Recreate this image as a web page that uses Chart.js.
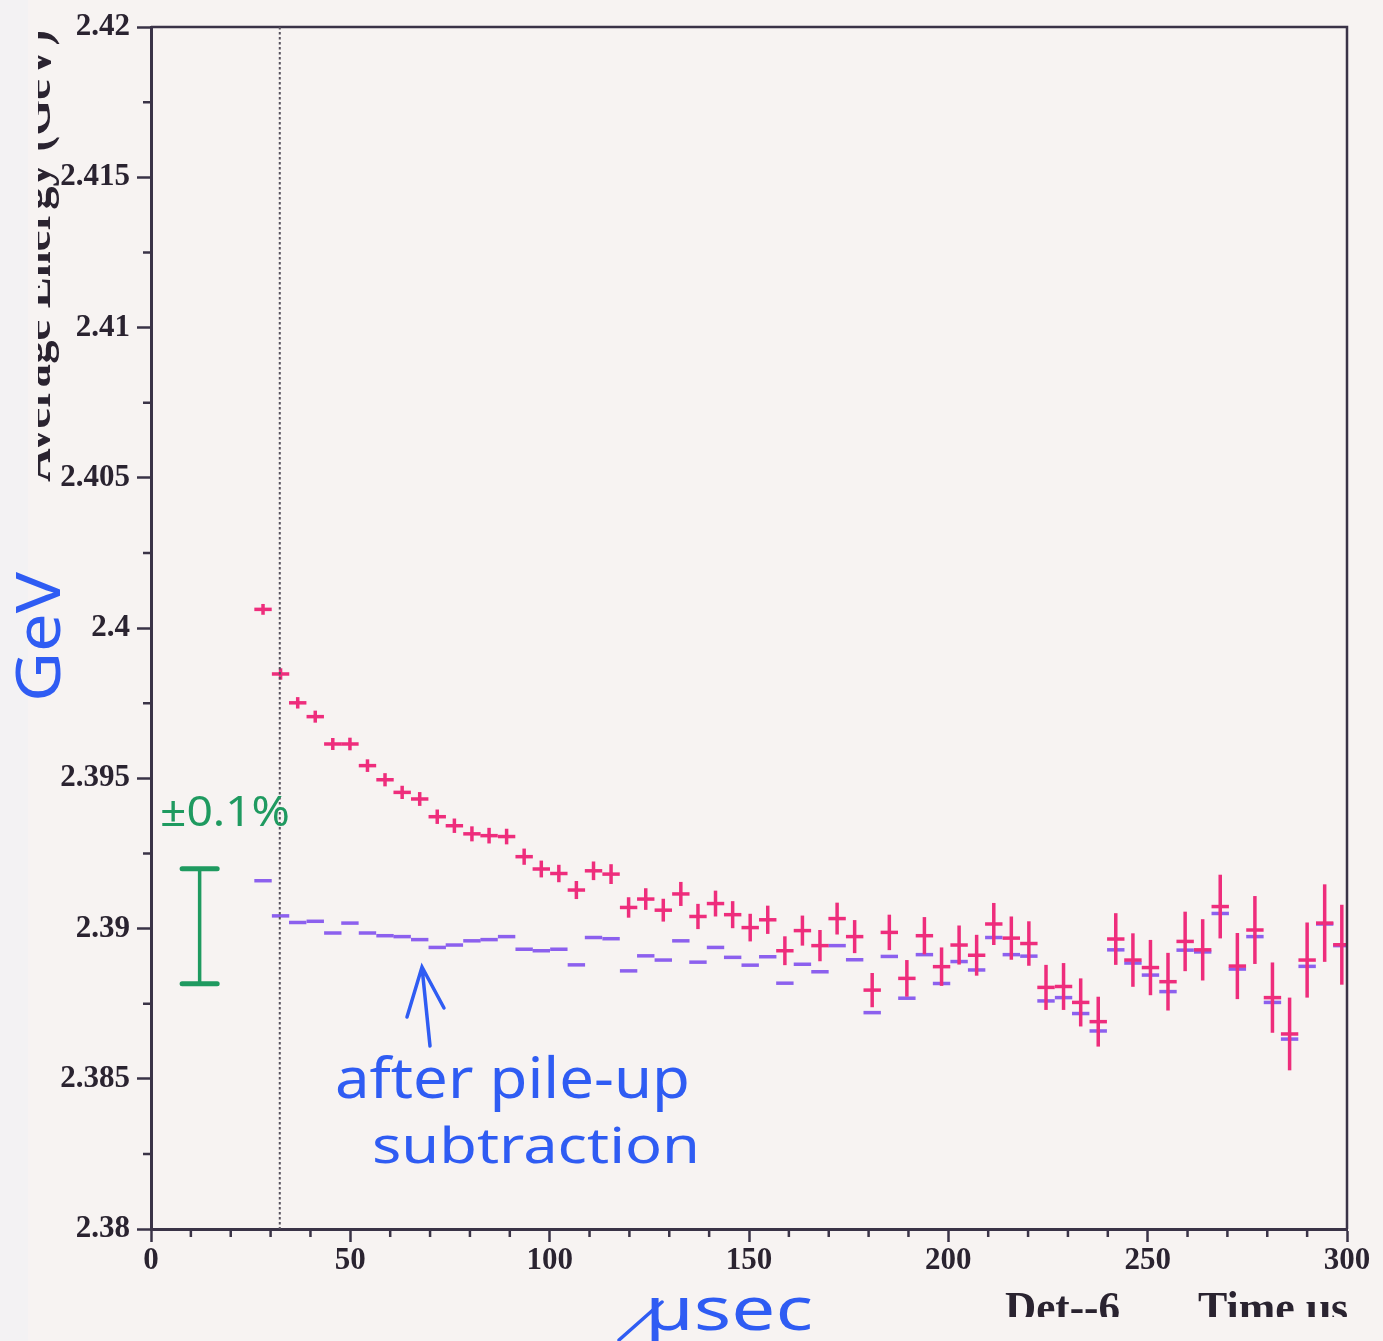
<!DOCTYPE html>
<html lang="en">
<head>
  <meta charset="UTF-8">
  <title>Average Energy vs Time - Det 6</title>
  <script src="https://cdn.jsdelivr.net/npm/chart.js"></script>
  <style>
    html, body { margin: 0; background: #f7f3f2; }
    canvas { display: block; }
  </style>
</head>
<body>
<canvas id="energyChart" width="1383" height="1341"></canvas>

<script>
  // bin centres (usec)
  const times = [
    28.1, 32.5, 36.8, 41.2, 45.6, 49.9, 54.3, 58.7, 63.0, 67.4,
    71.8, 76.1, 80.5, 84.8, 89.2, 93.6, 97.9, 102.3, 106.7, 111.0,
    115.4, 119.8, 124.1, 128.5, 132.9, 137.2, 141.6, 145.9, 150.3, 154.7,
    159.0, 163.4, 167.8, 172.1, 176.5, 180.9, 185.2, 189.6, 194.0, 198.3,
    202.7, 207.1, 211.4, 215.8, 220.2, 224.5, 228.9, 233.2, 237.6, 242.0,
    246.3, 250.7, 255.1, 259.4, 263.8, 268.2, 272.5, 276.9, 281.3, 285.6,
    290.0, 294.4, 298.7
  ];

  // average energy before pile-up subtraction (GeV)
  const rawEnergy = [
    2.40062, 2.39847, 2.39751, 2.39705, 2.39614, 2.39614, 2.39542, 2.39495, 2.39453, 2.39431,
    2.39372, 2.39342, 2.39315, 2.39309, 2.39306, 2.39239, 2.39198, 2.39183, 2.39128, 2.39192,
    2.39181, 2.39070, 2.39098, 2.39061, 2.39115, 2.39040, 2.39083, 2.39046, 2.39003, 2.39029,
    2.38926, 2.38993, 2.38943, 2.39033, 2.38973, 2.38795, 2.38987, 2.38834, 2.38976, 2.38873,
    2.38945, 2.38911, 2.39015, 2.38968, 2.38950, 2.38804, 2.38807, 2.38754, 2.38690, 2.38965,
    2.38895, 2.38870, 2.38823, 2.38957, 2.38929, 2.39073, 2.38875, 2.38995, 2.38770, 2.38649,
    2.38895, 2.39018, 2.38946
  ];

  const rawError = [
    0.00018, 0.00019, 0.00019, 0.00020, 0.00020, 0.00021, 0.00021, 0.00022, 0.00022, 0.00023,
    0.00024, 0.00024, 0.00025, 0.00026, 0.00026, 0.00027, 0.00028, 0.00029, 0.00030, 0.00031,
    0.00033, 0.00034, 0.00036, 0.00038, 0.00040, 0.00042, 0.00043, 0.00045, 0.00046, 0.00047,
    0.00048, 0.00050, 0.00052, 0.00053, 0.00055, 0.00057, 0.00059, 0.00061, 0.00062, 0.00064,
    0.00065, 0.00068, 0.00070, 0.00072, 0.00074, 0.00075, 0.00078, 0.00080, 0.00083, 0.00086,
    0.00089, 0.00092, 0.00096, 0.00099, 0.00102, 0.00106, 0.00110, 0.00113, 0.00117, 0.00121,
    0.00125, 0.00129, 0.00133
  ];

  // average energy after pile-up subtraction (GeV)
  const subtractedEnergy = [
    2.39159, 2.39042, 2.39020, 2.39024, 2.38985, 2.39018, 2.38985, 2.38976, 2.38973, 2.38963,
    2.38937, 2.38945, 2.38959, 2.38963, 2.38973, 2.38931, 2.38926, 2.38931, 2.38879, 2.38970,
    2.38966, 2.38859, 2.38909, 2.38895, 2.38959, 2.38888, 2.38937, 2.38904, 2.38878, 2.38906,
    2.38818, 2.38881, 2.38856, 2.38943, 2.38896, 2.38720, 2.38907, 2.38768, 2.38913, 2.38817,
    2.38890, 2.38862, 2.38970, 2.38913, 2.38908, 2.38759, 2.38770, 2.38717, 2.38659, 2.38929,
    2.38885, 2.38845, 2.38790, 2.38928, 2.38922, 2.39050, 2.38865, 2.38973, 2.38754, 2.38632,
    2.38874, 2.39015, 2.38943
  ];

  const xMajorTicks = [0, 50, 100, 150, 200, 250, 300];
  const xMinorTicks = [10, 20, 30, 40, 60, 70, 80, 90, 110, 120, 130, 140, 160, 170, 180, 190,
                       210, 220, 230, 240, 260, 270, 280, 290];
  const yMajorTicks = [2.38, 2.385, 2.39, 2.395, 2.4, 2.405, 2.41, 2.415, 2.42];
  const yMinorTicks = [2.3825, 2.3875, 2.3925, 2.3975, 2.4025, 2.4075, 2.4125, 2.4175];

  const fitStartTime = 32.3;                 // dotted line
  const scaleBar = { x: 12.2, low: 2.38816, high: 2.39199 };  // green +-0.1% bar

  const PINK = '#ee2d7c';
  const PURPLE = '#8c60ee';
  const AXIS = '#3a3347';
  const INK = '#2a2330';
  const PEN_BLUE = '#2f5cf3';
  const PEN_GREEN = '#1f9a60';
  const HAND = '"Noto Sans", "DejaVu Sans", sans-serif';
  const SERIF = '"Liberation Serif", "DejaVu Serif", serif';

  function fitText(ctx, text, x, y, width, font) {
    ctx.font = font;
    const w = ctx.measureText(text).width;
    ctx.save();
    ctx.translate(x, y);
    ctx.scale(width / w, 1);
    ctx.fillText(text, 0, 0);
    ctx.restore();
  }

  // paper background
  const paper = {
    id: 'paper',
    beforeDraw(chart) {
      const ctx = chart.ctx;
      ctx.save();
      ctx.fillStyle = '#f7f3f2';
      ctx.fillRect(0, 0, chart.width, chart.height);
      ctx.fillStyle = '#f3f2f3';
      ctx.fillRect(0, 0, 28, chart.height);
      ctx.restore();
    }
  };

  // vertical error bars on the raw points
  const errorBars = {
    id: 'errorBars',
    afterDatasetsDraw(chart) {
      const { ctx, scales: { x, y } } = chart;
      ctx.save();
      ctx.strokeStyle = PINK;
      ctx.lineWidth = 3.5;
      times.forEach((t, i) => {
        const px = x.getPixelForValue(t);
        ctx.beginPath();
        ctx.moveTo(px, y.getPixelForValue(rawEnergy[i] - rawError[i]));
        ctx.lineTo(px, y.getPixelForValue(rawEnergy[i] + rawError[i]));
        ctx.stroke();
      });
      ctx.restore();
    }
  };

  // frame, minor ticks and the hand-written notes
  const decorations = {
    id: 'decorations',
    afterDraw(chart) {
      const { ctx, chartArea: a, scales: { x, y } } = chart;
      ctx.save();

      // top and right frame
      ctx.strokeStyle = AXIS;
      ctx.lineWidth = 2.5;
      ctx.beginPath();
      ctx.moveTo(a.left, a.top);
      ctx.lineTo(a.right, a.top);
      ctx.lineTo(a.right, a.bottom);
      ctx.stroke();

      // minor ticks
      ctx.lineWidth = 2.5;
      ctx.beginPath();
      xMinorTicks.forEach(v => {
        const px = x.getPixelForValue(v);
        ctx.moveTo(px, a.bottom);
        ctx.lineTo(px, a.bottom + 8);
      });
      yMinorTicks.forEach(v => {
        const py = y.getPixelForValue(v);
        ctx.moveTo(a.left - 8, py);
        ctx.lineTo(a.left, py);
      });
      ctx.stroke();

      // dotted line at start of fit
      ctx.strokeStyle = '#56515d';
      ctx.lineWidth = 2;
      ctx.setLineDash([2.5, 2.5]);
      const fx = x.getPixelForValue(fitStartTime);
      ctx.beginPath();
      ctx.moveTo(fx, a.top);
      ctx.lineTo(fx, a.bottom);
      ctx.stroke();
      ctx.setLineDash([]);

      // green scale bar
      const gx = x.getPixelForValue(scaleBar.x);
      const gTop = y.getPixelForValue(scaleBar.high);
      const gBot = y.getPixelForValue(scaleBar.low);
      const capL = x.getPixelForValue(scaleBar.x - 4.4);
      const capR = x.getPixelForValue(scaleBar.x + 4.4);
      ctx.strokeStyle = PEN_GREEN;
      ctx.lineCap = 'round';
      ctx.lineWidth = 3.5;
      ctx.beginPath();
      ctx.moveTo(gx, gTop);
      ctx.lineTo(gx, gBot);
      ctx.stroke();
      ctx.lineWidth = 5;
      ctx.beginPath();
      ctx.moveTo(capL, gTop);
      ctx.lineTo(capR, gTop);
      ctx.moveTo(capL, gBot);
      ctx.lineTo(capR, gBot);
      ctx.stroke();
      ctx.fillStyle = PEN_GREEN;
      fitText(ctx, '\u00b10.1%', 160, 826, 130, '42px ' + HAND);

      // blue notes
      ctx.fillStyle = PEN_BLUE;
      ctx.strokeStyle = PEN_BLUE;
      ctx.lineWidth = 3.5;
      ctx.beginPath();
      ctx.moveTo(430, 1046);
      ctx.lineTo(422, 967);
      ctx.moveTo(407, 1017);
      ctx.lineTo(422, 967);
      ctx.lineTo(444, 1008);
      ctx.stroke();
      fitText(ctx, 'after pile-up', 335, 1098, 355, '56px ' + HAND);
      fitText(ctx, 'subtraction', 372, 1163, 328, '50px ' + HAND);
      fitText(ctx, '\u00b5sec', 645, 1330, 168, '60px ' + HAND);
      ctx.beginPath();
      ctx.moveTo(619, 1340);
      ctx.lineTo(662, 1302);
      ctx.stroke();

      ctx.save();
      ctx.translate(60, 702);
      ctx.rotate(-Math.PI / 2);
      fitText(ctx, 'GeV', 0, 0, 130, '62px ' + HAND);
      ctx.restore();

      // printed y title, cut off at the paper edge
      ctx.fillStyle = INK;
      ctx.save();
      ctx.beginPath();
      ctx.rect(38, 0, 40, 520);
      ctx.clip();
      ctx.translate(50, 482);
      ctx.rotate(-Math.PI / 2);
      fitText(ctx, 'Average Energy (GeV)', 0, 0, 452, 'bold 44px ' + SERIF);
      ctx.restore();

      // printed footer, cut off at the bottom
      ctx.save();
      ctx.beginPath();
      ctx.rect(950, 1260, 433, 57);
      ctx.clip();
      fitText(ctx, 'Det--6', 1005, 1322, 115, 'bold 44px ' + SERIF);
      fitText(ctx, 'Time \u00b5s', 1198, 1322, 150, 'bold 44px ' + SERIF);
      ctx.restore();

      ctx.restore();
    }
  };

  const tickFont = { family: SERIF, size: 31, weight: 'bold' };

  new Chart(document.getElementById('energyChart'), {
    type: 'scatter',
    data: {
      datasets: [
        {
          label: 'Before pile-up subtraction',
          data: times.map((t, i) => ({ x: t, y: rawEnergy[i] })),
          pointStyle: 'line',
          pointRadius: 8.7,
          pointBorderWidth: 3.5,
          borderColor: PINK,
          order: 1
        },
        {
          label: 'After pile-up subtraction',
          data: times.map((t, i) => ({ x: t, y: subtractedEnergy[i] })),
          pointStyle: 'line',
          pointRadius: 8.7,
          pointBorderWidth: 3.5,
          borderColor: PURPLE,
          order: 2
        }
      ]
    },
    options: {
      responsive: false,
      animation: false,
      events: [],
      layout: { padding: { top: 27, right: 36, left: 0, bottom: 0 } },
      plugins: {
        legend: { display: false },
        tooltip: { enabled: false }
      },
      scales: {
        x: {
          type: 'linear',
          min: 0,
          max: 300,
          afterBuildTicks: scale => { scale.ticks = xMajorTicks.map(v => ({ value: v })); },
          afterFit: scale => { scale.height = 112; },
          ticks: {
            autoSkip: false,
            maxRotation: 0,
            padding: 0,
            color: INK,
            font: tickFont,
            callback: v => String(v)
          },
          grid: { drawOnChartArea: false, tickLength: 13, tickWidth: 2.5, tickColor: AXIS },
          border: { color: AXIS, width: 3 }
        },
        y: {
          type: 'linear',
          min: 2.38,
          max: 2.42,
          afterBuildTicks: scale => { scale.ticks = yMajorTicks.map(v => ({ value: v })); },
          afterFit: scale => { scale.width = 151; },
          ticks: {
            autoSkip: false,
            padding: 7,
            color: INK,
            font: tickFont,
            callback: v => String(v)
          },
          grid: { drawOnChartArea: false, tickLength: 14, tickWidth: 2.5, tickColor: AXIS },
          border: { color: AXIS, width: 3 }
        }
      }
    },
    plugins: [paper, errorBars, decorations]
  });
</script>
</body>
</html>
